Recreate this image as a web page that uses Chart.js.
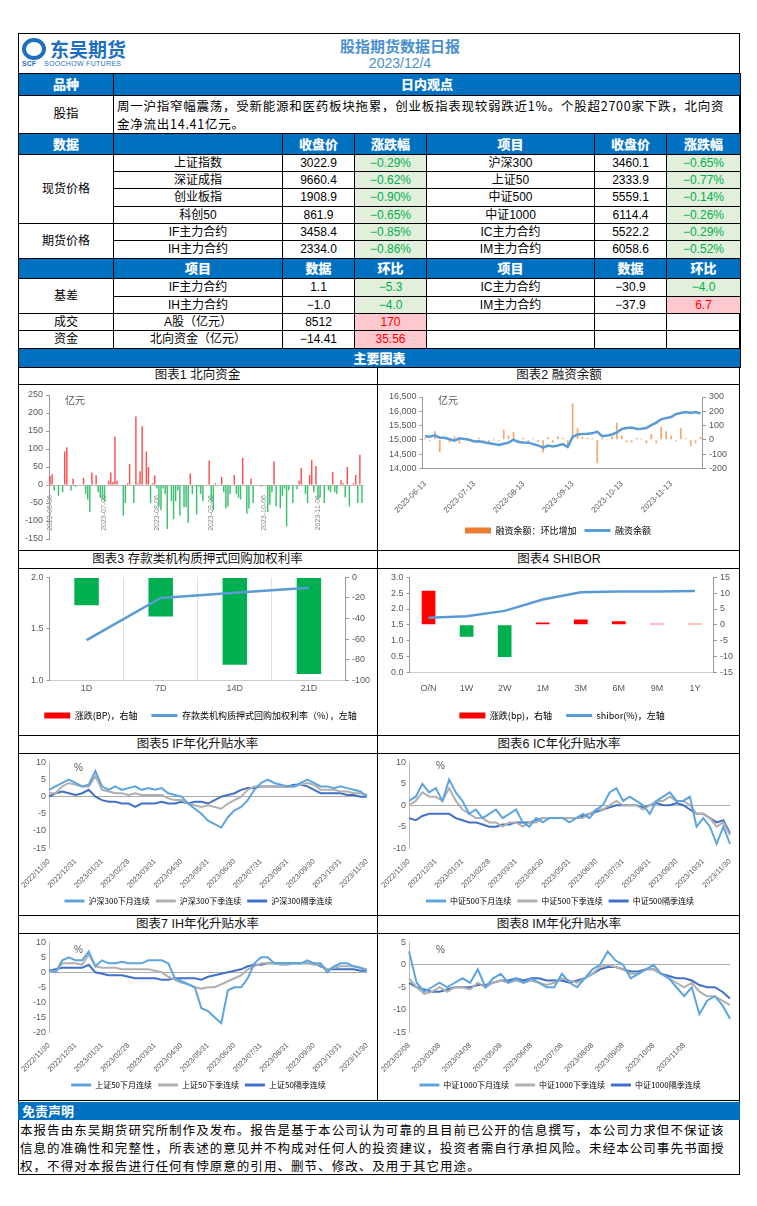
<!DOCTYPE html>
<html><head><meta charset="utf-8">
<script src="https://cdn.jsdelivr.net/npm/chart.js@4.4.0/dist/chart.umd.min.js"></script>
<style>
body{margin:0;background:#fff;font-family:"Liberation Sans","Noto Sans CJK SC",sans-serif;}
.a{position:absolute;box-sizing:border-box;}
table{border-collapse:collapse;table-layout:fixed;}
td{border:1px solid #000;text-align:center;font-size:12px;padding:0;color:#000;line-height:13px;overflow:hidden;}
td.h{background:#0070c0;color:#fff;font-weight:bold;font-size:13px;text-shadow:0 0 1px #9cf;}
td.g{background:#e2efda;color:#00b050;}
td.r{background:#ffc7ce;color:#ff0000;}
.tt{border-bottom:1px solid #000;text-align:center;font-size:12.5px;color:#111;line-height:17px;}
.unit{font-size:10px;color:#595959;}
</style></head><body>
<div class="a" style="left:18px;top:33px;width:722px;height:1142px;border:1px solid #000;"></div>
<!-- header -->
<div class="a" style="left:22px;top:38px;width:125px;height:30px;">
  <div class="a" style="left:0;top:0;width:24px;height:22px;border-radius:50%;border:4px solid #1f6fc0;"></div>
  <div class="a" style="left:28px;top:-3px;font-size:19px;font-weight:bold;color:#1f6fc0;font-family:'Noto Sans CJK SC';">东吴期货</div>
  <div class="a" style="left:0;top:22px;font-size:7px;font-weight:bold;color:#1f6fc0;">SCF</div>
  <div class="a" style="left:22px;top:22px;font-size:7px;color:#1f6fc0;letter-spacing:0.3px;">SOOCHOW FUTURES</div>
</div>
<div class="a" style="left:300px;top:35px;width:200px;text-align:center;font-size:15px;font-weight:bold;color:#4a90d0;font-family:'Noto Sans CJK SC';">股指期货数据日报</div>
<div class="a" style="left:300px;top:55px;width:200px;text-align:center;font-size:14px;color:#4a90d0;">2023/12/4</div>
<table class="a" style="left:18px;top:73px;width:722px;">
<colgroup><col style="width:95px"><col style="width:627px"></colgroup>
<tr style="height:22px"><td class="h">品种</td><td class="h">日内观点</td></tr>
<tr style="height:38px"><td style="font-size:12.5px">股指</td><td style="text-align:left;font-size:12.5px;padding:0 3px;line-height:18px;letter-spacing:0.75px;font-family:'Noto Sans CJK SC';">周一沪指窄幅震荡，受新能源和医药板块拖累，创业板指表现较弱跌近1%。个股超2700家下跌，北向资金净流出14.41亿元。</td></tr>
</table>
<table class="a" style="left:18px;top:133px;width:722px;">
<colgroup><col style="width:95px"><col style="width:169px"><col style="width:72px"><col style="width:72px"><col style="width:168px"><col style="width:72px"><col style="width:74px"></colgroup>
<tr style="height:21px"><td class="h">数据</td><td class="h"></td><td class="h">收盘价</td><td class="h">涨跌幅</td><td class="h">项目</td><td class="h">收盘价</td><td class="h">涨跌幅</td></tr>
<tr style="height:17px"><td rowspan="4">现货价格</td><td>上证指数</td><td>3022.9</td><td class="g">−0.29%</td><td>沪深300</td><td>3460.1</td><td class="g">−0.65%</td></tr>
<tr style="height:17px"><td>深证成指</td><td>9660.4</td><td class="g">−0.62%</td><td>上证50</td><td>2333.9</td><td class="g">−0.77%</td></tr>
<tr style="height:18px"><td>创业板指</td><td>1908.9</td><td class="g">−0.90%</td><td>中证500</td><td>5559.1</td><td class="g">−0.14%</td></tr>
<tr style="height:17px"><td>科创50</td><td>861.9</td><td class="g">−0.65%</td><td>中证1000</td><td>6114.4</td><td class="g">−0.26%</td></tr>
<tr style="height:17px"><td rowspan="2">期货价格</td><td>IF主力合约</td><td>3458.4</td><td class="g">−0.85%</td><td>IC主力合约</td><td>5522.2</td><td class="g">−0.29%</td></tr>
<tr style="height:18px"><td>IH主力合约</td><td>2334.0</td><td class="g">−0.86%</td><td>IM主力合约</td><td>6058.6</td><td class="g">−0.52%</td></tr>
<tr style="height:20px"><td class="h"></td><td class="h">项目</td><td class="h">数据</td><td class="h">环比</td><td class="h">项目</td><td class="h">数据</td><td class="h">环比</td></tr>
<tr style="height:18px"><td rowspan="2">基差</td><td>IF主力合约</td><td>1.1</td><td class="g">−5.3</td><td>IC主力合约</td><td>−30.9</td><td class="g">−4.0</td></tr>
<tr style="height:17px"><td>IH主力合约</td><td>−1.0</td><td class="g">−4.0</td><td>IM主力合约</td><td>−37.9</td><td class="r">6.7</td></tr>
<tr style="height:17px"><td>成交</td><td>A股（亿元）</td><td>8512</td><td class="r">170</td><td></td><td></td><td></td></tr>
<tr style="height:18px"><td>资金</td><td>北向资金（亿元）</td><td>−14.41</td><td class="r">35.56</td><td></td><td></td><td></td></tr>
<tr style="height:19px"><td class="h" colspan="7">主要图表</td></tr>
</table>
<!-- chart panels -->
<div class="a" style="left:377px;top:367px;width:1px;height:733px;background:#000;"></div>
<div class="a" style="left:18px;top:1100px;width:722px;height:1px;background:#000;"></div>
<div class="a tt" style="left:18px;top:367px;width:359px;">图表1 北向资金</div>
<div class="a tt" style="left:378px;top:367px;width:362px;">图表2 融资余额</div>
<div class="a" style="left:18px;top:550px;width:722px;height:1px;background:#000;"></div>
<div class="a tt" style="left:18px;top:551px;width:359px;">图表3 存款类机构质押式回购加权利率</div>
<div class="a tt" style="left:378px;top:551px;width:362px;">图表4 SHIBOR</div>
<div class="a" style="left:18px;top:735px;width:722px;height:1px;background:#000;"></div>
<div class="a tt" style="left:18px;top:736px;width:359px;">图表5 IF年化升贴水率</div>
<div class="a tt" style="left:378px;top:736px;width:362px;">图表6 IC年化升贴水率</div>
<div class="a" style="left:18px;top:915px;width:722px;height:1px;background:#000;"></div>
<div class="a tt" style="left:18px;top:916px;width:359px;">图表7 IH年化升贴水率</div>
<div class="a tt" style="left:378px;top:916px;width:362px;">图表8 IM年化升贴水率</div>

<canvas id="c1" class="a" width="359" height="164" style="left:18px;top:385px"></canvas>
<canvas id="c2" class="a" width="362" height="164" style="left:378px;top:385px"></canvas>
<canvas id="c3" class="a" width="359" height="165" style="left:18px;top:569px"></canvas>
<canvas id="c4" class="a" width="362" height="165" style="left:378px;top:569px"></canvas>
<canvas id="c5" class="a" width="359" height="161" style="left:18px;top:754px"></canvas>
<canvas id="c6" class="a" width="362" height="161" style="left:378px;top:754px"></canvas>
<canvas id="c7" class="a" width="359" height="165" style="left:18px;top:934px"></canvas>
<canvas id="c8" class="a" width="362" height="165" style="left:378px;top:934px"></canvas>
<div class="a unit" style="left:65px;top:392px;">亿元</div>
<div class="a unit" style="left:438px;top:392px;">亿元</div>
<div class="a unit" style="left:74px;top:762px;">%</div>
<div class="a unit" style="left:436px;top:760px;">%</div>
<div class="a unit" style="left:74px;top:944px;">%</div>
<div class="a unit" style="left:436px;top:944px;">%</div>

<div class="a" style="left:18px;top:1102px;width:722px;height:18px;background:#0070c0;color:#fff;font-weight:bold;font-size:13px;padding-left:4px;line-height:18px;font-family:'Noto Sans CJK SC';">免责声明</div>
<div class="a" style="left:20px;top:1121px;width:718px;font-size:12.5px;letter-spacing:1.05px;line-height:18px;color:#000;font-family:'Noto Sans CJK SC';">本报告由东吴期货研究所制作及发布。报告是基于本公司认为可靠的且目前已公开的信息撰写，本公司力求但不保证该信息的准确性和完整性，所表述的意见并不构成对任何人的投资建议，投资者需自行承担风险。未经本公司事先书面授权，不得对本报告进行任何有悖原意的引用、删节、修改、及用于其它用途。</div>

<script>
// ---------- data ----------
const northTicks = ['2023-06-06','2023-07-06','2023-08-06','2023-09-06','2023-10-06','2023-11-06'];
const northFlow = [25,30,-15,0,-30,0,-20,93,105,0,-15,18,-5,0,0,0,20,-25,-40,-75,35,0,27,-20,-35,-40,-45,0,12,35,8,135,12,0,0,-85,-50,5,58,0,-50,190,5,38,163,0,93,50,-50,5,27,-10,-60,-70,-10,-25,-122,0,-45,-95,-45,-15,-85,0,-62,-62,-105,32,-25,0,-82,-5,-25,-45,0,0,68,-45,-70,5,0,0,22,-20,-65,-60,-25,0,28,-25,-35,-40,75,0,-80,-65,18,-50,0,0,0,-5,0,0,-75,-55,-20,66,-60,0,-65,-30,-10,-115,-15,0,-50,0,-12,12,47,0,-25,-50,28,70,-20,53,-40,-35,0,-50,0,-15,-20,36,-20,-25,0,13,5,-35,50,-60,0,5,28,-50,84,-50];

const marginTicks = ['2023-06-13','2023-07-13','2023-08-13','2023-09-13','2023-10-13','2023-11-13'];
const marginBal = [15123,15110,15154,15072,15072,15020,14969,15051,15030,15000,14939,14949,14910,14877,14850,14816,14860,14898,15000,14918,14905,14898,14846,14800,14723,14795,14764,14800,14846,14744,15102,15184,15200,15210,15225,15287,15123,15150,15184,15256,15379,15410,15430,15379,15390,15410,15512,15600,15717,15760,15799,15900,15940,15973,15942,15973,15922];
const marginChg = [10,-10,60,-88,15,-20,25,-25,10,5,-8,15,-15,-22,10,-10,70,30,55,-20,15,-25,10,-15,-90,20,-20,25,15,-40,255,80,20,15,10,-165,10,5,25,120,30,-15,-20,15,10,-25,40,-25,90,60,30,-10,80,10,-45,-25,20];

const repoCats = ['1D','7D','14D','21D'];
const repoRate = [1.39,1.80,1.85,1.90];
const repoChg = [-27,-38,-85,-94];

const shiborCats = ['O/N','1W','2W','1M','3M','6M','9M','1Y'];
const shiborRate = [1.72,1.77,1.94,2.30,2.53,2.55,2.55,2.57];
const shiborChg = [10.8,-3.8,-10.2,0.7,1.7,1.1,0.3,0.3];

const yearTicks = ['2022/11/30','2022/12/31','2023/01/31','2023/02/28','2023/03/31','2023/04/30','2023/05/31','2023/06/30','2023/07/31','2023/08/31','2023/09/30','2023/10/31','2023/11/30'];
const imTicks = ['2023/02/08','2023/03/08','2023/04/08','2023/05/08','2023/06/08','2023/07/08','2023/08/08','2023/09/08','2023/10/08','2023/11/08'];

const ifNext = [2,3,4,5,4,3,3.5,7.5,3,2,3,2,2.5,3,2,2.5,2,2.5,1,0.5,0,-2,-3.5,-5,-7,-8,-9,-6,-4,-3,-1,2,4,5,4,3.5,3,3,4,5,4,3,3,2.5,3,2.5,2,1.5,0];
const ifQtr = [1,1,3,4,3.5,3,3,6,2,1.5,1,1,0.5,1,0.5,0.5,0.5,0.5,-0.5,-1,-1,-2,-2.5,-3,-2.5,-3,-3.5,-2,-1,0,2,3,3,3,3,3,3,3,3.5,4,3.5,2,2,2,1.5,1.5,1,1,0.5];
const ifFar = [0,1,1.5,1,0.5,1,2,0,-1,-1.5,-1.5,-2,-2,-3,-2,-2,-2,-1.5,-2,-2,-1.5,-2,-1.5,-1.5,-2,-1,0,0.5,1,2,2.5,2.5,3,3,3,3,3,3.5,3.5,3,2,1,1,1,1,0.5,0.5,0,0];

const icNext = [1,2,5,3,4,1,6,3,1,-2,-1,-3,-2,-1,-3,-2,-1,-4,-5,-3,-4,-3,-3,-3,-4,-3,-2,-3,-1,0,3,4,1,2,1,0,-2,1,2,3,1,1,2,-5,-3,-5,-9,-5,-9];
const icQtr = [0,1,3,2,2,1,4,1,-1,-2,-3,-3,-4,-4,-5,-4,-4,-5,-4,-4,-3,-3,-3,-3,-3,-3,-3,-2,-1,-1,0,1,0,0,0,-1,0,1,1,2,1,1,0,-2,-2,-3,-5,-4,-7];
const icFar = [-3,-3.5,-2.5,-2,-2,-2,-2,-3,-3.5,-4,-4,-4.5,-5,-5,-4.5,-4.5,-4,-4,-4,-3.5,-3,-3,-3,-3,-3,-3,-2.5,-2,-1.5,-1,-0.5,0,0,0,0,-0.5,0,0.5,0,0,0.5,0,-1,-2,-2,-3,-4,-3.5,-6.5];

const ihNext = [1,0,4,5,4,4,7,2,4,3,3,3.5,3,3,3,4,4,4,3,-2,-3,-4,-5,-12,-13,-15,-17,-6,-5,-5,-2,3,5,5,3,3,3,3,3,4,3,3,0,2,3,3,2,1.5,0.5];
const ihQtr = [1,0,3,3,3,2.5,6,2,1.5,1.5,1.5,1,1,1,1,1,0.5,0,-1.5,-2.5,-3.5,-4,-5,-5.5,-5,-5,-4,-3,-2,-1,1,2,3,3,3,2.5,2.5,3,3,3,2.5,2.5,1,1.5,2,2,2,1.5,1];
const ihFar = [0.5,1,1.5,1.5,1.5,1.5,2.5,0,-0.5,-1,-1,-1,-1.5,-2,-2,-2,-2,-2.5,-2.5,-2,-2,-2,-2,-2.5,-1.5,-1,-0.5,0,0.5,1,2,2.5,2.5,3,3,3,3,3,3,3,3,2,1,1,1,1,1,0.5,0.5];

const imNext = [3,-4,-6,-5,-4,-5,-4,-3,-4,-1,-5,-3,-2,-4,-3,-4,-3,-4,-5,-5,-2,-4,-5,-3,-1,0,3,1,0,-3,-2,-1,0,-2,-3,-5,-7,-5,-11,-8,-7,-9,-12];
const imQtr = [-3,-5,-6.5,-6,-5,-6,-5,-5,-5.5,-4,-5,-4,-3.5,-4,-3.5,-4,-3.5,-4,-4.5,-4,-3,-3.5,-4,-3,-2,-0.5,0,-0.5,-1,-2,-2,-1,-1,-2,-3,-4,-5,-4,-6,-7,-7,-8,-9];
const imFar = [-4,-5,-5.5,-6,-6,-5.5,-5,-5,-5,-4.5,-4.5,-4,-3.5,-3.5,-3,-3.5,-3,-3,-3.5,-3.5,-3.5,-4,-3.5,-3,-2,-1,-0.5,-0.5,-1,-1.5,-1.5,-1,-1,-2,-2.5,-3,-3,-3.5,-4.5,-5,-5,-6,-7.5];

// ---------- helpers ----------
Chart.defaults.font.family = "'Liberation Sans','Noto Sans CJK SC',sans-serif";
Chart.defaults.color = '#595959';
Chart.defaults.animation = false;
const TF = {size:9};
const LF = {size:9, family:"'Noto Sans CJK SC','Liberation Sans',sans-serif"};
function spread(n, ticks, step){ const a=[]; for(let i=0;i<n;i++){ a.push(i%step===0 && ticks[i/step]!==undefined ? ticks[i/step] : ''); } return a; }
function legendItems(items, w, pad, fs){ return {display:true, position:'bottom', labels:{usePointStyle:true, pointStyleWidth:w||26, boxHeight:6, font:Object.assign({}, LF, fs?{size:fs}:{}), color:'#595959', padding:pad||14, generateLabels:()=>items}}; }
function yAx(min,max,step,pos,extra){ return Object.assign({position:pos, min, max, ticks:{stepSize:step, autoSkip:false, font:TF, color:'#595959', callback:v=>v.toLocaleString('en-US')}, grid:{drawOnChartArea:false, tickLength:3, color:'#999'}, border:{color:'#999'}}, extra||{}); }

// Chart 1
(function(){
  const n = northFlow.length, lab = new Array(n).fill('');
  northTicks.forEach((t,k)=>{ lab[Math.round(k*n/5.87)] = t; });
  new Chart(document.getElementById('c1'), {type:'bar',
    data:{labels:lab, datasets:[{data:northFlow, backgroundColor:northFlow.map(v=>v>=0?'#ff5050':'#3cc070'), barPercentage:0.7, categoryPercentage:1}]},
    options:{responsive:false, layout:{padding:{left:4,right:14,top:10,bottom:10}}, plugins:{legend:{display:false},tooltip:{enabled:false}},
      scales:{x:{position:{y:0}, ticks:{autoSkip:false, maxRotation:90, minRotation:90, font:{size:7}, color:'#888', padding:2}, grid:{display:false}, border:{color:'#bbb'}},
        y:yAx(-150,250,50,'left')}}});
})();
// Chart 2
(function(){
  const n = marginBal.length;
  new Chart(document.getElementById('c2'), {
    data:{labels:spread(n, marginTicks, 10), datasets:[
      {type:'line', label:'融资余额', data:marginBal, yAxisID:'y', borderColor:'#5b9bd5', borderWidth:2.5, pointRadius:0, tension:0},
      {type:'bar', label:'融资余额：环比增加', data:marginChg, yAxisID:'y1', backgroundColor:'#f5a970', barPercentage:0.35, categoryPercentage:1}]},
    options:{responsive:false, layout:{padding:{left:8,right:10,top:12,bottom:4}},
      plugins:{tooltip:{enabled:false}, legend:legendItems([
        {text:'融资余额：环比增加', fillStyle:'#ed7d31', strokeStyle:'#ed7d31', lineWidth:0, pointStyle:'rect', datasetIndex:1},
        {text:'融资余额', fillStyle:'#5b9bd5', strokeStyle:'#5b9bd5', lineWidth:3, pointStyle:'line', datasetIndex:0}], 26, 8)},
      scales:{x:{ticks:{autoSkip:false, maxRotation:45, minRotation:45, font:{size:8}, color:'#595959'}, grid:{display:false}, border:{color:'#999'}},
        y:yAx(14000,16500,500,'left'), y1:yAx(-200,300,100,'right')}}});
})();
// Chart 3
new Chart(document.getElementById('c3'), {
  data:{labels:repoCats, datasets:[
    {type:'line', data:repoRate, yAxisID:'y', borderColor:'#5b9bd5', borderWidth:2.5, pointRadius:0},
    {type:'bar', data:repoChg, yAxisID:'y1', backgroundColor:'#00b050', barPercentage:0.33, categoryPercentage:1}]},
  options:{responsive:false, layout:{padding:{left:10,right:4,top:8,bottom:4}},
    plugins:{tooltip:{enabled:false}, legend:legendItems([
      {text:'涨跌(BP)，右轴', fillStyle:'#ff0000', strokeStyle:'#ff0000', lineWidth:0, pointStyle:'rect', datasetIndex:1},
      {text:'存款类机构质押式回购加权利率（%），左轴', fillStyle:'#5b9bd5', strokeStyle:'#5b9bd5', lineWidth:3, pointStyle:'line', datasetIndex:0}])},
    scales:{x:{offset:true, ticks:{font:TF, color:'#595959'}, grid:{offset:true, color:'#e0e0e0', drawTicks:false}, border:{color:'#ccc'}},
      y:yAx(1.0,2.0,0.5,'left',{ticks:{stepSize:0.5,font:TF,color:'#595959',callback:v=>v.toFixed(1)}}), y1:yAx(-100,0,20,'right')}}});
// Chart 4
new Chart(document.getElementById('c4'), {
  data:{labels:shiborCats, datasets:[
    {type:'line', data:shiborRate, yAxisID:'y', borderColor:'#5b9bd5', borderWidth:2.5, pointRadius:0},
    {type:'bar', data:shiborChg, yAxisID:'y1', backgroundColor:shiborChg.map(v=>v>=0?'#ff0000':'#00b050'), barPercentage:0.36, categoryPercentage:1}]},
  options:{responsive:false, layout:{padding:{left:10,right:4,top:8,bottom:4}},
    plugins:{tooltip:{enabled:false}, legend:legendItems([
      {text:'涨跌(bp)，右轴', fillStyle:'#ff0000', strokeStyle:'#ff0000', lineWidth:0, pointStyle:'rect', datasetIndex:1},
      {text:'shibor(%)，左轴', fillStyle:'#5b9bd5', strokeStyle:'#5b9bd5', lineWidth:3, pointStyle:'line', datasetIndex:0}])},
    scales:{x:{ticks:{font:TF, color:'#595959'}, grid:{display:false}, border:{color:'#ccc'}},
      y:yAx(0,3,0.5,'left',{ticks:{stepSize:0.5,font:TF,color:'#595959',callback:v=>v.toFixed(1)}}), y1:yAx(-15,15,5,'right')}}});
// Charts 5-8
function basisChart(id, labels, s, names, ymin, ymax){
  const cols = ['#5ea5e0','#b0b0b0','#4070c8'];
  new Chart(document.getElementById(id), {type:'line',
    data:{labels, datasets:s.map((d,i)=>({label:names[i], data:d, borderColor:cols[i], borderWidth:2, pointRadius:0, pointStyle:'line', tension:0}))},
    options:{responsive:false, layout:{padding:{left:12,right:10,top:8,bottom:0}},
      plugins:{tooltip:{enabled:false}, legend:legendItems(names.map((t,i)=>({text:t, fillStyle:cols[i], strokeStyle:cols[i], lineWidth:3, pointStyle:'line', datasetIndex:i})), 20, 6, 8)},
      scales:{x:{ticks:{autoSkip:false, maxRotation:45, minRotation:45, font:{size:7.5}, color:'#595959', padding:1}, grid:{display:false}, border:{display:false}},
        y:{min:ymin, max:ymax, ticks:{stepSize:5, autoSkip:false, font:TF, color:'#595959'}, grid:{color:c=>c.tick && c.tick.value===0?'#aaa':'transparent', drawTicks:false}, border:{color:'#bbb'}}}}});
}
basisChart('c5', spread(ifNext.length, yearTicks, 4), [ifNext, ifQtr, ifFar], ['沪深300下月连续','沪深300下季连续','沪深300隔季连续'], -15, 10);
basisChart('c6', spread(icNext.length, yearTicks, 4), [icNext, icQtr, icFar], ['中证500下月连续','中证500下季连续','中证500隔季连续'], -10, 10);
basisChart('c7', spread(ihNext.length, yearTicks, 4), [ihNext, ihQtr, ihFar], ['上证50下月连续','上证50下季连续','上证50隔季连续'], -20, 10);
basisChart('c8', spread(imNext.length, imTicks, 4), [imNext, imQtr, imFar], ['中证1000下月连续','中证1000下季连续','中证1000隔季连续'], -15, 5);
</script>
</body></html>
